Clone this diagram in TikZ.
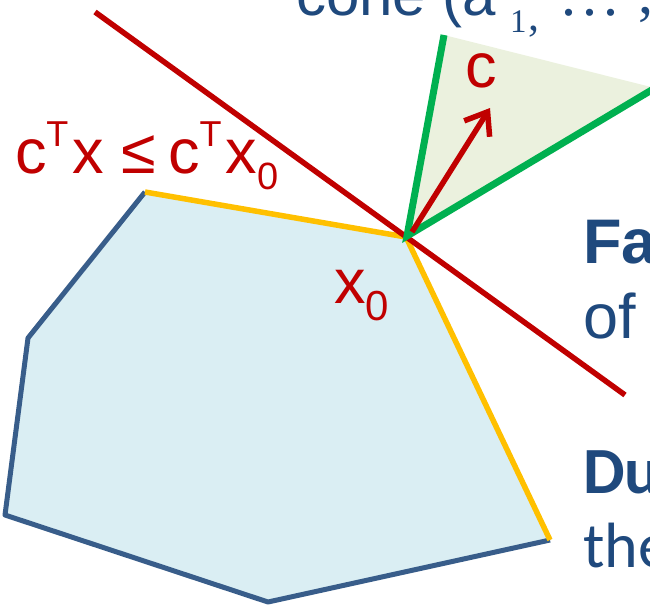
\documentclass[tikz,border=0pt]{standalone}
\usepackage{fontspec}
\setmainfont{Liberation Sans}
\newfontfamily\serifface{Liberation Serif}
\newfontfamily\carlface{Carlito}
\usetikzlibrary{arrows.meta}
\definecolor{polyfill}{HTML}{DAEEF3}
\definecolor{polyedge}{HTML}{385D8A}
\definecolor{faceyellow}{HTML}{FFC000}
\definecolor{hred}{HTML}{C00000}
\definecolor{cgreen}{HTML}{00B050}
\definecolor{conefill}{HTML}{EBF1DE}
\definecolor{txtblue}{HTML}{1F497D}
\newcommand{\supT}{\raisebox{27pt}{\fontsize{36}{36}\selectfont T}}
\tikzset{
  lbl/.style={inner sep=0pt, outer sep=0pt, anchor=base west},
  big/.style={font=\fontsize{63}{70}\selectfont},
  edgeline/.style={draw=polyedge, line width=5pt, line join=round},
  faceline/.style={draw=faceyellow, line width=5.5pt, line join=round},
  greenline/.style={draw=cgreen, line width=7pt},
  redline/.style={draw=hred, line width=5.5pt},
}
\begin{document}
\begin{tikzpicture}[x=1pt,y=-1pt]
\useasboundingbox (0,0) rectangle (650,605);
\clip (0,0) rectangle (650,605);
% polygon
\coordinate (A) at (145,192);
\coordinate (X0) at (406,237);
\coordinate (B) at (550,540);
\coordinate (C) at (268,602);
\coordinate (D) at (5,515);
\coordinate (E) at (28,338);
\fill[polyfill] (A) -- (X0) -- (B) -- (C) -- (D) -- (E) -- cycle;
\draw[edgeline] (B) -- (C) -- (D) -- (E) -- (A);
\draw[faceline] (A) -- (X0) -- (B);
% hyperplane
\coordinate (H1) at (95,12);
\coordinate (H2) at (625,395);
\draw[redline] (H1) -- (H2);
% cone
\coordinate (P) at (407,236);
\coordinate (G1) at (444,35);
\coordinate (G2) at (655,88);
\fill[conefill] (P) -- (G1) -- (G2) -- cycle;
\draw[greenline] (G1) -- (P) -- (G2);
% c arrow
\coordinate (AS) at (412,232);
\coordinate (AT) at (490,108);
\draw[redline, -{Straight Barb[length=20pt,width=30pt]}] (AS) -- (AT);
% labels
\node[lbl, big, text=hred] (cvec) at (465,87) {c};
\node[lbl, big, text=hred] (x0lbl) at (334,303) {x\raisebox{-17pt}{\fontsize{42}{42}\selectfont 0}};
\node[lbl, big, text=hred] (ineq) at (15,173) {c\supT\kern4pt x ≤\kern12pt c\supT\kern4pt x\raisebox{-16pt}{\fontsize{38}{38}\selectfont 0}};
% top text
\node[lbl, text=txtblue, font=\fontsize{60}{66}\selectfont] (cone) at (296,15) {cone (a};
\node[lbl, text=txtblue, font=\serifface\fontsize{33}{34}\selectfont] (sub1) at (510,32) {1};
\node[lbl, text=txtblue, font=\serifface\fontsize{44}{44}\selectfont] (comma1) at (528,30) {,};
\node[lbl, text=txtblue, font=\serifface\fontsize{60}{60}\selectfont] (dots) at (561,15) {.\kern6pt.\kern6pt.};
\node[lbl, text=txtblue, font=\serifface\fontsize{60}{60}\selectfont] (comma2) at (638,13) {,};
% right text
\node[lbl, text=txtblue, font=\bfseries\fontsize{63}{70}\selectfont] (fa) at (583,263) {Fa};
\node[lbl, big, text=txtblue] (of) at (583,338) {of};
\node[lbl, text=txtblue, font=\carlface\bfseries\fontsize{66}{70}\selectfont] (du) at (583,493) {Du};
\node[lbl, text=txtblue, font=\carlface\fontsize{64}{70}\selectfont] (the) at (583,567) {the};
\end{tikzpicture}
\end{document}
